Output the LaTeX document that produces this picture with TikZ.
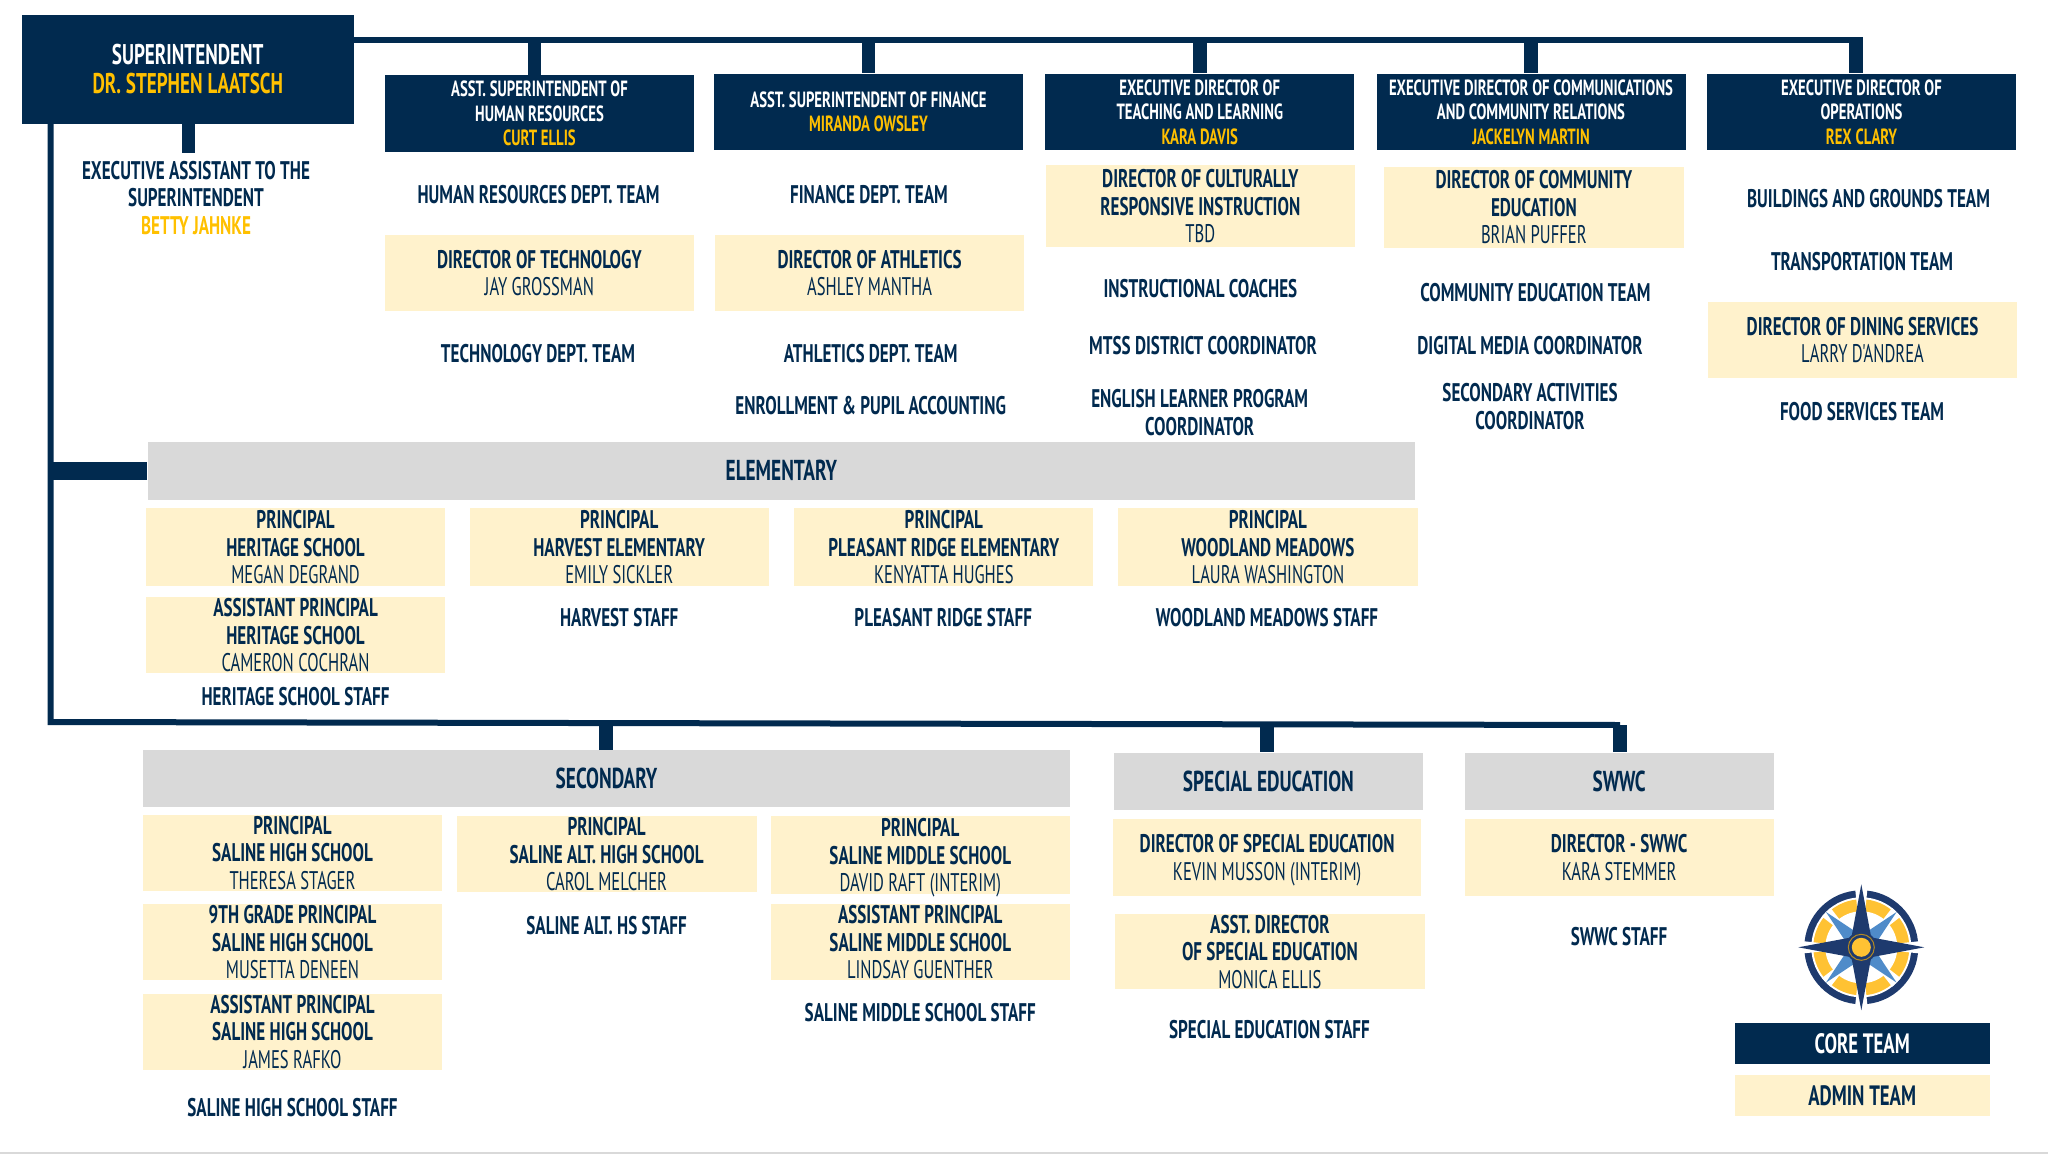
\documentclass[tikz,border=0pt]{standalone}
\usepackage{fontspec}
\setmainfont{PT Sans}[FakeStretch=0.67]
\newfontfamily\namefont{PT Sans}[FakeStretch=0.65]
\usepackage{xcolor}
\usetikzlibrary{calc}

\definecolor{navy}{HTML}{012A4F}
\definecolor{cream}{HTML}{FFF2CC}
\definecolor{rulegrey}{HTML}{D9D9D9}
\definecolor{gold}{HTML}{FFC000}
\definecolor{logonavy}{HTML}{1E3A6E}
\definecolor{logoblue}{HTML}{4F8BC9}
\definecolor{logogold}{HTML}{FFC233}

\newcommand{\who}[1]{{\namefont\mdseries #1}}
\newcommand{\goldname}[1]{{\color{gold}#1}}

\tikzset{
  corebox/.style={fill=navy, text=white, inner sep=0pt, align=center,
    minimum width=309, minimum height=76.5, text depth=-3pt,
    font=\fontsize{22}{24.5}\selectfont\bfseries},
  adminbox/.style={fill=cream, text=navy, inner sep=0pt, align=center,
    minimum width=309, minimum height=76, text depth=-3pt,
    font=\fontsize{25.5}{27.5}\selectfont\bfseries},
  groupbox/.style={fill=rulegrey, text=navy, inner sep=0pt, align=center,
    minimum height=57.5, font=\fontsize{28.8}{30}\selectfont\bfseries},
  teamlabel/.style={text=navy, inner sep=0pt, align=center,
    font=\fontsize{25.5}{27.5}\selectfont\bfseries},
  keylabel/.style={minimum width=255, minimum height=41.3, text depth=-7pt,
    font=\fontsize{28}{30}\selectfont\bfseries},
  trunk/.style={draw=navy, line width=6pt},
  dropline/.style={draw=navy, line width=13.5pt},
}

\begin{document}
\begin{tikzpicture}[x=1pt,y=-1pt]

  \useasboundingbox (0,0) rectangle (2048,1154);

  % Core team row
  \node[corebox, minimum width=332.5, minimum height=109.5, text depth=-4pt,
    font=\fontsize{28.5}{29}\selectfont\bfseries] (super) at (187.75,69.25)
    {SUPERINTENDENT\\\goldname{DR. STEPHEN LAATSCH}};
  \node[corebox] (hr)   at (539.5,113.25) {ASST. SUPERINTENDENT OF\\HUMAN RESOURCES\\\goldname{CURT ELLIS}};
  \node[corebox] (fin)  at (868.5,111.75) {ASST. SUPERINTENDENT OF FINANCE\\\goldname{MIRANDA OWSLEY}};
  \node[corebox] (tl)   at (1199.75,111.75) {EXECUTIVE DIRECTOR OF\\TEACHING AND LEARNING\\\goldname{KARA DAVIS}};
  \node[corebox] (comm) at (1531,111.75) {EXECUTIVE DIRECTOR OF COMMUNICATIONS\\AND COMMUNITY RELATIONS\\\goldname{JACKELYN MARTIN}};
  \node[corebox] (ops)  at (1861.5,111.75) {EXECUTIVE DIRECTOR OF\\OPERATIONS\\\goldname{REX CLARY}};

  % Under the superintendent
  \node[teamlabel] (assist) at (196,198) {EXECUTIVE ASSISTANT TO THE\\SUPERINTENDENT\\\goldname{BETTY JAHNKE}};

  % HR column
  \node[teamlabel] (hrteam) at (538.5,194.5) {HUMAN RESOURCES DEPT. TEAM};
  \node[adminbox] (dirtech) at (539.3,272.85) {DIRECTOR  OF TECHNOLOGY\\\who{JAY GROSSMAN}};
  \node[teamlabel] (techteam) at (538,354) {TECHNOLOGY DEPT. TEAM};

  % Finance column
  \node[teamlabel] (finteam) at (869,194.5) {FINANCE DEPT. TEAM};
  \node[adminbox] (dirath) at (869.6,272.85) {DIRECTOR OF ATHLETICS\\\who{ASHLEY MANTHA}};
  \node[teamlabel] (athteam) at (870.7,354) {ATHLETICS DEPT. TEAM};
  \node[teamlabel] (enroll) at (870.7,406) {ENROLLMENT \& PUPIL ACCOUNTING};

  % Teaching and learning column
  \node[adminbox, minimum height=82] (dircult) at (1200.3,206) {DIRECTOR OF CULTURALLY\\RESPONSIVE INSTRUCTION\\\who{TBD}};
  \node[teamlabel] (coaches) at (1200.4,289) {INSTRUCTIONAL COACHES};
  \node[teamlabel] (mtss) at (1203,346) {MTSS DISTRICT COORDINATOR};
  \node[teamlabel] (english) at (1199.7,412.5) {ENGLISH LEARNER PROGRAM\\COORDINATOR};

  % Communications column
  \node[adminbox, minimum width=300, minimum height=81.3] (dircomm) at (1533.85,207.35) {DIRECTOR OF COMMUNITY\\EDUCATION\\\who{BRIAN PUFFER}};
  \node[teamlabel] (commteam) at (1535.4,292.5) {COMMUNITY EDUCATION TEAM};
  \node[teamlabel] (digital) at (1530,346) {DIGITAL MEDIA COORDINATOR};
  \node[teamlabel] (activities) at (1530,406.5) {SECONDARY ACTIVITIES\\COORDINATOR};

  % Operations column
  \node[teamlabel] (grounds) at (1868.5,198.7) {BUILDINGS AND GROUNDS TEAM};
  \node[teamlabel] (transport) at (1862,261.2) {TRANSPORTATION TEAM};
  \node[adminbox] (dirdining) at (1862.5,340) {DIRECTOR OF DINING SERVICES\\\who{LARRY D'ANDREA}};
  \node[teamlabel] (food) at (1862,412) {FOOD SERVICES TEAM};

  % Elementary
  \node[groupbox, minimum width=1267.4] (elem) at (781.3,470.75) {ELEMENTARY};
  \node[adminbox, minimum width=298.5, minimum height=78] (heritage) at (295.55,547.3) {PRINCIPAL\\HERITAGE SCHOOL\\\who{MEGAN DEGRAND}};
  \node[adminbox, minimum width=298.5, minimum height=76.3] (apheritage) at (295.55,635.15) {ASSISTANT PRINCIPAL\\HERITAGE SCHOOL\\\who{CAMERON COCHRAN}};
  \node[teamlabel] (heritagestaff) at (295.5,696.5) {HERITAGE SCHOOL STAFF};
  \node[adminbox, minimum width=299, minimum height=78] (harvest) at (619.2,547.3) {PRINCIPAL\\HARVEST ELEMENTARY\\\who{EMILY SICKLER}};
  \node[teamlabel] (harveststaff) at (619.2,617.8) {HARVEST STAFF};
  \node[adminbox, minimum width=299, minimum height=78] (pleasant) at (943.8,547.3) {PRINCIPAL\\PLEASANT RIDGE ELEMENTARY\\\who{KENYATTA HUGHES}};
  \node[teamlabel] (pleasantstaff) at (943.2,617.8) {PLEASANT RIDGE STAFF};
  \node[adminbox, minimum width=300, minimum height=78] (woodland) at (1267.9,547.3) {PRINCIPAL\\WOODLAND MEADOWS\\\who{LAURA WASHINGTON}};
  \node[teamlabel] (woodlandstaff) at (1267,617.8) {WOODLAND MEADOWS STAFF};

  % Secondary
  \node[groupbox, minimum width=927, minimum height=56.7] (second) at (606.5,778.65) {SECONDARY};
  \node[adminbox, minimum width=299, minimum height=76.3] (shs) at (292.5,852.85) {PRINCIPAL\\SALINE HIGH SCHOOL\\\who{THERESA STAGER}};
  \node[adminbox, minimum width=299, minimum height=76.3] (shsnine) at (292.5,942.15) {9TH GRADE PRINCIPAL\\SALINE HIGH SCHOOL\\\who{MUSETTA DENEEN}};
  \node[adminbox, minimum width=299, minimum height=76.3] (shsasst) at (292.5,1031.7) {ASSISTANT PRINCIPAL\\SALINE HIGH SCHOOL\\\who{JAMES RAFKO}};
  \node[teamlabel] (shsstaff) at (292.5,1107.2) {SALINE HIGH SCHOOL STAFF};
  \node[adminbox, minimum width=299.8, minimum height=75.7] (alt) at (606.6,854.15) {PRINCIPAL\\SALINE ALT. HIGH SCHOOL\\\who{CAROL MELCHER}};
  \node[teamlabel] (altstaff) at (606.6,925.8) {SALINE ALT. HS STAFF};
  \node[adminbox, minimum width=299.5, minimum height=77.4] (sms) at (920.25,855) {PRINCIPAL\\SALINE MIDDLE SCHOOL\\\who{DAVID RAFT (INTERIM)}};
  \node[adminbox, minimum width=299.5, minimum height=76.3] (smsasst) at (920.25,942.15) {ASSISTANT PRINCIPAL\\SALINE MIDDLE  SCHOOL\\\who{LINDSAY GUENTHER}};
  \node[teamlabel] (smsstaff) at (920.25,1013) {SALINE MIDDLE SCHOOL STAFF};

  % Special education
  \node[groupbox, minimum width=309.2, minimum height=57.8] (spec) at (1268.4,781.4) {SPECIAL EDUCATION};
  \node[adminbox, minimum width=308.6, minimum height=76.6] (dirspec) at (1267.1,857.3) {DIRECTOR OF SPECIAL EDUCATION\\\who{KEVIN MUSSON (INTERIM)}};
  \node[adminbox, minimum width=310, minimum height=75.4] (asstspec) at (1269.9,951.7) {ASST. DIRECTOR\\OF SPECIAL EDUCATION\\\who{MONICA ELLIS}};
  \node[teamlabel] (specstaff) at (1269.4,1030) {SPECIAL EDUCATION STAFF};

  % SWWC
  \node[groupbox, minimum width=308.7, minimum height=57.8] (swwc) at (1619.15,781.4) {SWWC};
  \node[adminbox, minimum width=308.7, minimum height=76.6] (dirswwc) at (1619.15,857.3) {DIRECTOR - SWWC\\\who{KARA STEMMER}};
  \node[teamlabel] (swwcstaff) at (1619,936.5) {SWWC STAFF};

  % Key
  \node[corebox, keylabel] (keycore) at (1862.2,1043.65) {CORE TEAM};
  \node[adminbox, keylabel] (keyadmin) at (1862.2,1095.65) {ADMIN TEAM};

  % Top bus and its drops
  \coordinate (busend) at (1863,39.5);
  \coordinate (tophr) at (534.7,39.5);
  \coordinate (topfin) at (868.5,39.5);
  \coordinate (toptl) at (1200,39.5);
  \coordinate (topcomm) at (1531,39.5);
  \coordinate (topops) at (1856,39.5);
  \draw[trunk] (super.east |- busend) -- (busend);
  \draw[dropline] (tophr) -- (tophr |- hr.north);
  \draw[dropline] (topfin) -- (topfin |- fin.north);
  \draw[dropline] (toptl) -- (toptl |- tl.north);
  \draw[dropline] (topcomm) -- (topcomm |- comm.north);
  \draw[dropline] (topops) -- (topops |- ops.north);

  % Assistant stub
  \coordinate (stubend) at (188.25,152.5);
  \draw[dropline] (super.south -| stubend) -- (stubend);

  % Left trunk and bottom bus
  \coordinate (elbow) at (50.5,722);
  \coordinate (botend) at (1620,725);
  \coordinate (botsec) at (606.2,723);
  \coordinate (botspec) at (1267,724.5);
  \draw[trunk, line join=miter] (super.south -| elbow) -- (elbow) -- (botend);
  \draw[draw=navy, line width=18pt] (elbow |- elem.west) -- (elem.west);
  \draw[dropline] (botsec) -- (botsec |- second.north);
  \draw[dropline] (botspec) -- (botspec |- spec.north);
  \draw[dropline] (botend) -- (botend |- swwc.north);

  % Page edge
  \coordinate (edgeleft) at (0,1153);
  \coordinate (edgeright) at (2048,1153);
  \draw[rulegrey, line width=2pt] (edgeleft) -- (edgeright);

  % Compass
  \coordinate (logo) at (1861.3,947.3);
  \fill[logonavy] (logo) circle (57);
  \fill[white] (logo) circle (50);
  \fill[logogold] (logo) circle (48);
  \fill[white] (logo) circle (36);
  \foreach \ang in {45,135,225,315}{
    \fill[white] ($(logo)+(\ang-7:50)$) -- ($(logo)+(\ang+7:50)$) -- (logo) -- cycle;
    \fill[logoblue] ($(logo)+(\ang:50)$) -- ($(logo)+(\ang+24:17)$)
      -- (logo) -- ($(logo)+(\ang-24:17)$) -- cycle;
  }
  \foreach \ang in {0,90,180,270}{
    \fill[white] ($(logo)+(\ang-6:64)$) -- ($(logo)+(\ang+6:64)$) -- (logo) -- cycle;
    \fill[logonavy] ($(logo)+(\ang:63)$) -- ($(logo)+(\ang+45:14)$)
      -- ($(logo)+(\ang+45:3)$) -- ($(logo)+(\ang-45:14)$) -- cycle;
  }
  \fill[logonavy] (logo) circle (15.5);
  \draw[logogold!70!black, line width=1pt] (logo) circle (13);
  \fill[logogold] (logo) circle (9.5);

\end{tikzpicture}
\end{document}
